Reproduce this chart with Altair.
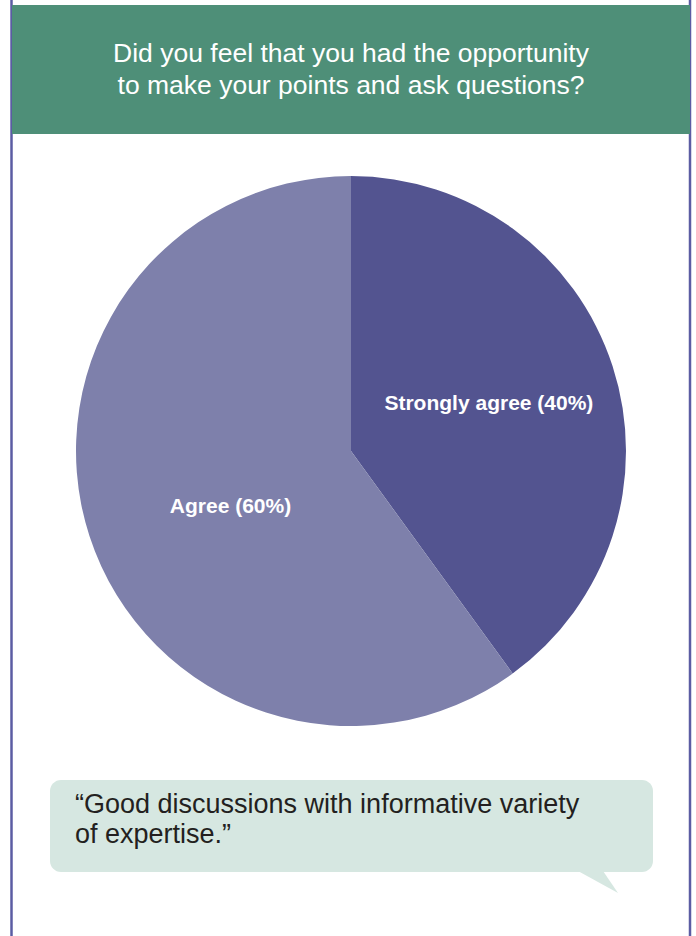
import math
import altair as alt
import pandas as pd

# Survey answers, in clockwise order from 12 o'clock
answers = ["Strongly agree", "Agree"]
shares = [40, 60]
slice_colors = ["#535490", "#7e80ab"]

title_lines = [
    "Did you feel that you had the opportunity",
    "to make your points and ask questions?",
]
quote_lines = [
    "\u201cGood discussions with informative variety",
    "of expertise.\u201d",
]

W, H = 696, 936
CX, CY, R = 351, 451, 275
FONT = "Liberation Sans"

df = pd.DataFrame({
    "answer": answers,
    "share": shares,
    "rank": list(range(len(answers))),
})
df["label"] = [f"{a} ({s}%)" for a, s in zip(answers, shares)]

one = pd.DataFrame({"k": [0]})

# Panel frame: side borders and green header band
left_border = alt.Chart(one).mark_rule(color="#5b5ca3", strokeWidth=2.5).encode(
    x=alt.value(11.5), y=alt.value(0), y2=alt.value(H)
)
right_border = alt.Chart(one).mark_rule(color="#5b5ca3", strokeWidth=2.5).encode(
    x=alt.value(690), y=alt.value(0), y2=alt.value(H)
)
header = alt.Chart(one).mark_rect(color="#4e8f78").encode(
    x=alt.value(12), x2=alt.value(690), y=alt.value(5), y2=alt.value(134)
)
header_text = alt.Chart(one).mark_text(
    text=title_lines, font=FONT, fontSize=26.5, color="white",
    align="center", baseline="alphabetic", lineHeight=32,
).encode(x=alt.value(351), y=alt.value(62))

# Pie
pie = alt.Chart(df).mark_arc(outerRadius=R, stroke=None).encode(
    theta=alt.Theta("share:Q", stack=True),
    order=alt.Order("rank:Q"),
    color=alt.Color("answer:N", scale=alt.Scale(domain=answers, range=slice_colors), legend=None),
    x=alt.value(CX), y=alt.value(CY),
)

# Slice labels at the middle angle of each slice
labels_base = alt.Chart(df).transform_window(
    cum="sum(share)", sort=[alt.SortField("rank")]
).transform_calculate(
    mid="datum.cum - datum.share / 2"
)

def slice_label(name, radius, dx, dy):
    return labels_base.transform_filter(alt.datum.answer == name).mark_text(
        radius=radius, font=FONT, fontSize=21, fontWeight="bold", color="white",
        align="center", baseline="middle", dx=dx, dy=dy,
    ).encode(
        theta=alt.Theta("mid:Q", scale=alt.Scale(domain=[0, 100], range=[0, 2 * math.pi])),
        text="label:N",
        x=alt.value(CX), y=alt.value(CY),
    )

label_strong = slice_label("Strongly agree", 145, 0, -2)
label_agree = slice_label("Agree", 133, 6, 15)

# Speech bubble with quote
bubble = alt.Chart(one).mark_rect(color="#d6e7e1", cornerRadius=11).encode(
    x=alt.value(50), x2=alt.value(653), y=alt.value(780), y2=alt.value(872)
)
tail = alt.Chart(one).mark_point(
    shape="M 0 0 L 40 22 L 25 0 Z", size=4, filled=True, opacity=1,
    color="#d6e7e1", strokeWidth=0,
).encode(x=alt.value(578), y=alt.value(871))
quote_text = alt.Chart(one).mark_text(
    text=quote_lines, font=FONT, fontSize=27, color="#231f20",
    align="left", baseline="alphabetic", lineHeight=30,
).encode(x=alt.value(75), y=alt.value(813))

chart = alt.layer(
    left_border, right_border, header, header_text,
    pie, label_strong, label_agree,
    bubble, tail, quote_text,
).properties(
    width=W, height=H, padding=0, autosize=alt.AutoSizeParams(type="none"),
    background="white",
).configure_view(stroke=None)

chart.save("out.html", embed_options={"renderer": "svg", "actions": False})
